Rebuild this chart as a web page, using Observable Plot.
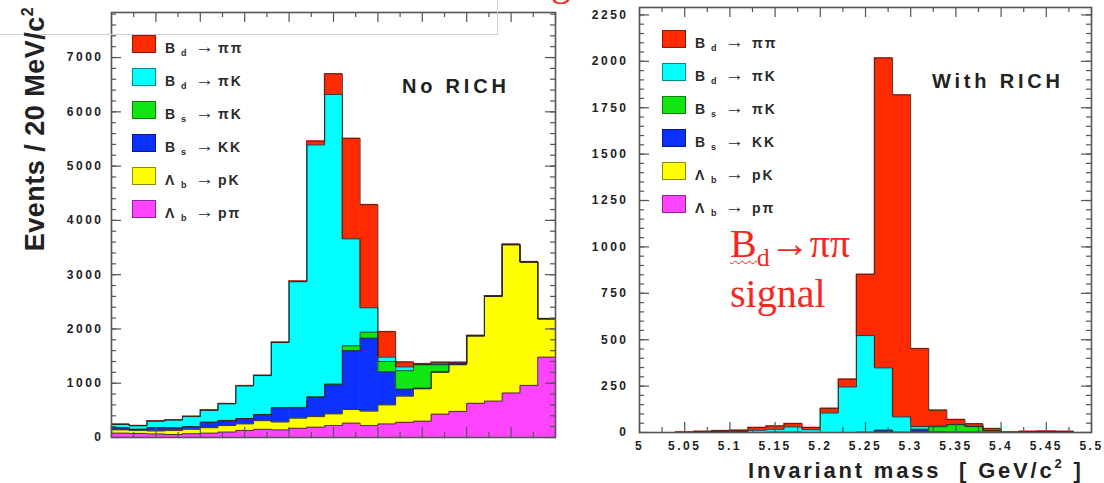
<!DOCTYPE html>
<html lang="en">
<head>
<meta charset="utf-8">
<title>B → h h′ invariant mass, without and with RICH</title>
<script src="https://cdn.jsdelivr.net/npm/d3@7"></script>
<script src="https://cdn.jsdelivr.net/npm/@observablehq/plot@0.6"></script>
<style>
  html, body { margin: 0; padding: 0; background: #fff; }
  #stage { position: relative; width: 1104px; height: 483px; overflow: hidden; background: #fff; }
  .panel { position: absolute; top: 0; height: 483px; }
  .panel svg { display: block; max-width: none; }
  .abs { position: absolute; white-space: nowrap; }
  .sans { font-family: "Liberation Sans", Arial, Helvetica, sans-serif; font-weight: bold; color: #222; }
  .swatch { position: absolute; width: 24px; height: 18px; box-sizing: border-box; border: 1px solid rgba(0,0,0,0.45); }
  .leg { position: absolute; white-space: nowrap; color: #2a2a2a; font-family: "Liberation Sans", Arial, sans-serif; }
  .serif { font-family: "Liberation Serif", "Times New Roman", serif; color: #f5281e; }
</style>
</head>
<body>
<div id="stage">
  <div id="noRich" class="panel" style="left:0;width:560px"></div>
  <div id="withRich" class="panel" style="left:560px;width:544px"></div>

  <!-- slide furniture around the two histograms -->
  <div class="abs" style="left:-1px;top:-1px;width:499px;height:36px;box-sizing:border-box;border:1px solid #cfcfcf"></div>
  <div class="abs serif" style="left:551px;top:-38px;font-size:40px;line-height:40px">g</div>

  <div class="abs sans" style="left:37px;top:129px;transform:translate(-50%,-50%) rotate(-90deg);font-size:27px;line-height:27px;letter-spacing:0.5px">Events / 20 MeV/c<span style="font-size:16px;position:relative;top:-11px">2</span></div>

  <div class="abs sans" style="left:402px;top:76px;font-size:20px;line-height:20px;letter-spacing:3.8px">No RICH</div>
  <div class="abs sans" style="left:932px;top:71px;font-size:20px;line-height:20px;letter-spacing:3.8px">With RICH</div>

  <div class="abs sans" style="left:748px;top:462px;font-size:22px;line-height:18px;letter-spacing:2.8px">Invariant mass&nbsp;&nbsp;[&nbsp;GeV/c<span style="font-size:13px;position:relative;top:-10px">2</span>&nbsp;]</div>

  <div class="abs serif" style="left:730px;top:221px;font-size:40px;line-height:45px">
    <span style="text-decoration:underline wavy #d8261c;text-decoration-thickness:1px;text-underline-offset:3px">B<span style="font-size:26px;position:relative;top:9px">d</span></span>→ππ<br>signal
  </div>

  <div id="legendNoRich"></div>
  <div id="legendWithRich"></div>
</div>

<script>
// ---- binning (20 MeV/c^2 bins from 5.0 to 5.5 GeV/c^2) ----
const binEdges = [5.00, 5.02, 5.04, 5.06, 5.08, 5.10, 5.12, 5.14, 5.16, 5.18, 5.20, 5.22, 5.24,
                  5.26, 5.28, 5.30, 5.32, 5.34, 5.36, 5.38, 5.40, 5.42, 5.44, 5.46, 5.48, 5.50];

// ---- events per bin, no RICH ----
const noRichLbPpi  = [80, 75, 65, 55, 70, 80, 100, 130, 150, 140, 170, 190, 220, 265, 220, 250, 280, 300, 430, 480, 630, 670, 820, 960, 1480];
const noRichLbPK   = [60, 55, 55, 75, 80, 100, 120, 120, 160, 145, 185, 195, 215, 250, 265, 350, 480, 595, 770, 860, 1240, 1930, 2730, 2270, 705];
const noRichBsKK   = [38, 20, 60, 45, 50, 100, 90, 95, 110, 261, 190, 355, 535, 1085, 1345, 610, 130, 15, 10, 5, 2, 2, 2, 2, 1];
const noRichBsPiK  = [2, 2, 2, 3, 3, 3, 5, 5, 5, 6, 10, 10, 15, 90, 110, 190, 340, 430, 130, 20, 3, 3, 3, 3, 1];
const noRichBdPiK  = [60, 63, 118, 142, 182, 217, 305, 600, 715, 1198, 2315, 4640, 5335, 1970, 450, 80, 70, 5, 10, 5, 2, 2, 2, 2, 1];
const noRichBdPiPi = [5, 5, 5, 5, 5, 5, 5, 5, 5, 5, 10, 70, 380, 1850, 1900, 470, 90, 15, 35, 15, 3, 3, 3, 3, 2];

// ---- events per bin, with RICH ----
const withRichLbPpi  = [0, 0, 0, 0, 0, 0, 0, 0, 0, 0, 0, 0, 0, 0, 0, 0, 0, 0, 0, 0, 0, 0, 2, 0, 0];
const withRichLbPK   = [0, 0, 0, 0, 0, 0, 0, 0, 0, 0, 0, 0, 0, 0, 0, 0, 0, 0, 0, 0, 0, 0, 0, 0, 0];
const withRichBsKK   = [0, 0, 0, 2, 3, 3, 0, 0, 0, 0, 0, 0, 0, 12, 0, 14, 3, 2, 2, 0, 0, 2, 2, 2, 0];
const withRichBsPiK  = [0, 0, 0, 0, 0, 0, 0, 2, 2, 0, 0, 0, 2, 0, 2, 4, 28, 40, 30, 9, 0, 0, 0, 0, 0];
const withRichBdPiK  = [0, 0, 0, 0, 2, 4, 12, 15, 28, 15, 105, 245, 520, 336, 82, 14, 4, 2, 2, 0, 0, 0, 0, 0, 0];
const withRichBdPiPi = [0, 0, 2, 4, 5, 5, 15, 18, 18, 12, 25, 42, 330, 1670, 1735, 420, 85, 26, 13, 12, 2, 4, 3, 4, 0];

// ---- channels, bottom of the stack first ----
const stackKeys   = ["Lb_ppi", "Lb_pK", "Bs_KK", "Bs_piK", "Bd_piK", "Bd_pipi"];
const stackColors = ["#ff44ff", "#ffff00", "#0b30ff", "#12e612", "#00ffff", "#ff2a00"];

// ---- legend rows, top to bottom ----
const legendKeys   = ["Bd_pipi", "Bd_piK", "Bs_piK", "Bs_KK", "Lb_pK", "Lb_ppi"];
const legendParent = ["B", "B", "B", "B", "Λ", "Λ"];
const legendSub    = ["d", "d", "s", "s", "b", "b"];
const legendDecay  = ["ππ", "πK", "πK", "KK", "pK", "pπ"];

// ---- axis ticks ----
const noRichCountTicks   = [0, 1000, 2000, 3000, 4000, 5000, 6000, 7000];
const withRichCountTicks = [0, 250, 500, 750, 1000, 1250, 1500, 1750, 2000, 2250];
const massTicks      = [5, 5.05, 5.1, 5.15, 5.2, 5.25, 5.3, 5.35, 5.4, 5.45, 5.5];
const massTickLabels = ["5", "5.05", "5.1", "5.15", "5.2", "5.25", "5.3", "5.35", "5.4", "5.45", "5.5"];

const H = 483;
const tickStyle = {stroke: "#555", strokeWidth: 1.2};

// Stack the channels bin by bin; also collect the step outline of each cumulative layer.
function buildStack(seriesValues) {
  const rects = [], tops = [];
  const base = new Array(binEdges.length - 1).fill(0);
  seriesValues.forEach((values, s) => {
    const key = stackKeys[s];
    values.forEach((v, i) => {
      const y1 = base[i], y2 = base[i] + v;
      if (v > 0) rects.push({key, x1: binEdges[i], x2: binEdges[i + 1], y1, y2});
      tops.push({key, x: binEdges[i], y: y2}, {key, x: binEdges[i + 1], y: y2});
      base[i] = y2;
    });
  });
  return {rects, tops};
}

function histogram({values, yMax, yTicks, yMinorStep, width, margin, yTickPadding, xLabels}) {
  const [mt, mr, mb, ml] = margin;
  const fw = width - ml - mr, fh = H - mt - mb;
  const {rects, tops} = buildStack(values);
  const yMinor = d3.range(yMinorStep, yMax, yMinorStep);
  const xMinor = [5.025, 5.075, 5.125, 5.175, 5.225, 5.275, 5.325, 5.375, 5.425, 5.475];

  const marks = [
    Plot.rect(rects, {x1: "x1", x2: "x2", y1: "y1", y2: "y2", fill: "key", stroke: "key", strokeWidth: 0.6}),
    Plot.line(tops, {x: "x", y: "y", z: "key", stroke: "#262626", strokeWidth: 1, strokeOpacity: 0.85}),
    // inward ticks on all four sides
    Plot.tickY(yTicks, {y: d => d, insetRight: fw - 10, ...tickStyle}),
    Plot.tickY(yTicks, {y: d => d, insetLeft: fw - 10, ...tickStyle}),
    Plot.tickY(yMinor, {y: d => d, insetRight: fw - 5, ...tickStyle}),
    Plot.tickY(yMinor, {y: d => d, insetLeft: fw - 5, ...tickStyle}),
    Plot.tickX(massTicks, {x: d => d, insetTop: fh - 10, ...tickStyle}),
    Plot.tickX(massTicks, {x: d => d, insetBottom: fh - 10, ...tickStyle}),
    Plot.tickX(xMinor, {x: d => d, insetTop: fh - 5, ...tickStyle}),
    Plot.tickX(xMinor, {x: d => d, insetBottom: fh - 5, ...tickStyle}),
    Plot.frame({stroke: "#555", strokeWidth: 1.6}),
    Plot.axisY(yTicks, {tickSize: 0, tickPadding: yTickPadding, tickFormat: d => String(d),
                        fontSize: 12, color: "#222", label: null})
  ];
  if (xLabels) {
    marks.push(Plot.axisX(massTicks, {tickSize: 0, tickPadding: 9,
      tickFormat: d => massTickLabels[massTicks.indexOf(d)], fontSize: 12, color: "#222", label: null}));
  }

  return Plot.plot({
    width, height: H,
    marginTop: mt, marginRight: mr, marginBottom: mb, marginLeft: ml,
    x: {domain: [5, 5.5], axis: xLabels ? undefined : null, label: null},
    y: {domain: [0, yMax], label: null},
    color: {domain: stackKeys, range: stackColors},
    style: {
      fontFamily: '"Liberation Sans", Arial, Helvetica, sans-serif',
      fontWeight: "bold",
      letterSpacing: "2.5px",
      background: "transparent",
      overflow: "visible"
    },
    marks
  });
}

document.getElementById("noRich").append(histogram({
  values: [noRichLbPpi, noRichLbPK, noRichBsKK, noRichBsPiK, noRichBdPiK, noRichBdPiPi],
  yMax: 7830, yTicks: noRichCountTicks, yMinorStep: 200,
  width: 560, margin: [12, 5, 46, 111], yTickPadding: 8, xLabels: false
}));

document.getElementById("withRich").append(histogram({
  values: [withRichLbPpi, withRichLbPK, withRichBsKK, withRichBsPiK, withRichBdPiK, withRichBdPiPi],
  yMax: 2290, yTicks: withRichCountTicks, yMinorStep: 50,
  width: 544, margin: [7, 13, 51, 79], yTickPadding: 11, xLabels: true
}));

// Legends: colour box, then parent hadron with subscript, arrow and final state.
function legend(target, left, top, decayOffset) {
  const el = document.getElementById(target);
  legendKeys.forEach((key, i) => {
    const y = top + i * 33;
    const color = stackColors[stackKeys.indexOf(key)];
    const sw = document.createElement("div");
    sw.className = "swatch";
    sw.style.cssText = `left:${left}px;top:${y}px;background:${color}`;
    el.append(sw);
    const parts = [
      [legendParent[i], left + 33, y + 18 - 11.9, 14, "bold", "0px"],
      [legendSub[i], left + 49, y + 22 - 7.6, 9, "bold", "0px"],
      ["→", left + 63, y + 18 - 16.1, 19, "normal", "0px"],
      [legendDecay[i], left + decayOffset, y + 18 - 11.9, 14, "bold", "2px"]
    ];
    for (const [txt, x, t, fs, fw, ls] of parts) {
      const s = document.createElement("span");
      s.className = "leg";
      s.textContent = txt;
      s.style.cssText = `left:${x}px;top:${t}px;font-size:${fs}px;line-height:${fs}px;font-weight:${fw};letter-spacing:${ls}`;
      el.append(s);
    }
  });
}
legend("legendNoRich", 132, 35, 86);
legend("legendWithRich", 662, 30, 90);
</script>
</body>
</html>
